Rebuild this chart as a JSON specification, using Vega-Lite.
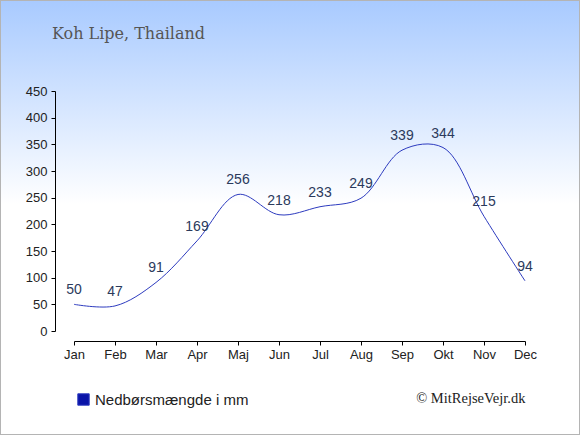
{
  "$schema": "https://vega.github.io/schema/vega-lite/v6.json",
  "width": 580,
  "height": 435,
  "autosize": "none",
  "padding": 0,
  "background": "#ffffff",
  "view": {
    "fill": {
      "gradient": "linear",
      "x1": 0.5, "y1": 0, "x2": 0.5, "y2": 1,
      "stops": [
        {"offset": 0, "color": "#a8caff"},
        {"offset": 0.47, "color": "#ffffff"},
        {"offset": 1, "color": "#ffffff"}
      ]
    },
    "stroke": "#b4b4b4",
    "strokeWidth": 2
  },
  "title": {
    "text": "Koh Lipe, Thailand",
    "anchor": "start",
    "frame": "group",
    "orient": "top",
    "offset": -39,
    "baseline": "alphabetic",
    "dx": 52,
    "dy": 16,
    "font": "DejaVu Serif",
    "fontSize": 16,
    "fontWeight": "normal",
    "color": "#555555"
  },
  "data": {
    "values": [
      {"month": "Jan", "mm": 50, "serie": "Nedbørsmængde i mm"},
      {"month": "Feb", "mm": 47, "serie": "Nedbørsmængde i mm"},
      {"month": "Mar", "mm": 91, "serie": "Nedbørsmængde i mm"},
      {"month": "Apr", "mm": 169, "serie": "Nedbørsmængde i mm"},
      {"month": "Maj", "mm": 256, "serie": "Nedbørsmængde i mm"},
      {"month": "Jun", "mm": 218, "serie": "Nedbørsmængde i mm"},
      {"month": "Jul", "mm": 233, "serie": "Nedbørsmængde i mm"},
      {"month": "Aug", "mm": 249, "serie": "Nedbørsmængde i mm"},
      {"month": "Sep", "mm": 339, "serie": "Nedbørsmængde i mm"},
      {"month": "Okt", "mm": 344, "serie": "Nedbørsmængde i mm"},
      {"month": "Nov", "mm": 215, "serie": "Nedbørsmængde i mm"},
      {"month": "Dec", "mm": 94, "serie": "Nedbørsmængde i mm"}
    ]
  },
  "encoding": {
    "x": {
      "field": "month",
      "type": "ordinal",
      "sort": null,
      "scale": {"type": "point", "range": [74, 525], "padding": 0},
      "axis": {
        "orient": "bottom",
        "offset": -94,
        "title": "© MitRejseVejr.dk",
        "titleFont": "Liberation Serif",
        "titleFontSize": 14.5,
        "titleFontWeight": "normal",
        "titleColor": "#222222",
        "titleAnchor": "end",
        "titleAlign": "right",
        "titleBaseline": "alphabetic",
        "titleY": 61,
        "labelAngle": 0,
        "labelFont": "Liberation Sans",
        "labelFontSize": 13,
        "labelColor": "#222222",
        "labelPadding": 3,
        "tickSize": 4,
        "tickColor": "#000000",
        "domainColor": "#000000",
        "grid": false
      }
    },
    "y": {
      "field": "mm",
      "type": "quantitative",
      "scale": {"domain": [0, 450], "range": [331, 91], "nice": false, "zero": true},
      "axis": {
        "orient": "left",
        "offset": -55,
        "title": null,
        "values": [0, 50, 100, 150, 200, 250, 300, 350, 400, 450],
        "labelFont": "Liberation Sans",
        "labelFontSize": 13,
        "labelColor": "#222222",
        "labelPadding": 4,
        "tickSize": 4,
        "tickColor": "#000000",
        "domainColor": "#000000",
        "grid": false
      }
    }
  },
  "layer": [
    {
      "mark": {"type": "line", "interpolate": "catmull-rom", "strokeWidth": 1, "clip": false},
      "encoding": {
        "color": {
          "field": "serie",
          "type": "nominal",
          "scale": {"range": ["#2d3bbf"]},
          "legend": {
            "title": null,
            "orient": "none",
            "legendX": 76,
            "legendY": 392,
            "symbolType": "square",
            "symbolSize": 130,
            "labelFont": "Liberation Sans",
            "labelFontSize": 15,
            "labelColor": "#222222",
            "labelOffset": 4,
            "encode": {
              "symbols": {
                "update": {
                  "fill": {"value": "#0a14a8"},
                  "stroke": {"value": "#0a14a8"},
                  "strokeWidth": {"value": 1}
                }
              }
            }
          }
        }
      }
    },
    {
      "mark": {
        "type": "text",
        "dy": -14,
        "baseline": "middle",
        "font": "Liberation Sans",
        "fontSize": 14,
        "color": "#2b3a5c"
      },
      "encoding": {
        "text": {"field": "mm", "type": "quantitative"}
      }
    }
  ]
}
